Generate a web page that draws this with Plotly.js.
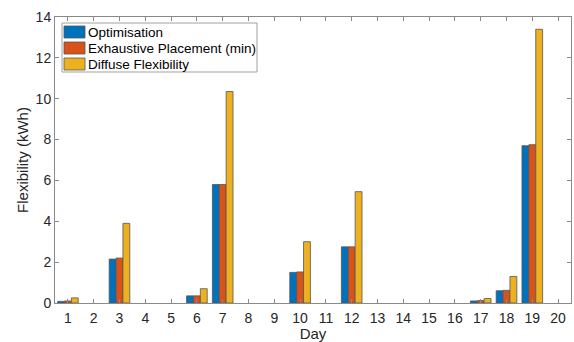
<!DOCTYPE html>
<html>
<head>
<meta charset="utf-8">
<script src="https://cdn.plot.ly/plotly-3.0.1.min.js"></script>
<style>html,body{margin:0;padding:0;background:#fff;}#chart{width:574px;height:342px;}</style>
</head>
<body>
<div id="chart"></div>
<script>
const days = [1,2,3,4,5,6,7,8,9,10,11,12,13,14,15,16,17,18,19,20];
const optimisation = [0.08,0,2.15,0,0,0.35,5.8,0,0,1.5,0,2.75,0,0,0,0,0.1,0.6,7.7,0];
const exhaustive   = [0.1,0,2.2,0,0,0.35,5.8,0,0,1.52,0,2.75,0,0,0,0,0.12,0.62,7.75,0];
const diffuse      = [0.25,0,3.9,0,0,0.7,10.35,0,0,3.0,0,5.45,0,0,0,0,0.22,1.3,13.4,0];
const seriesNames = ['Optimisation','Exhaustive Placement (min)','Diffuse Flexibility'];
const colors = ['#0072BD','#D95319','#EDB120'];
const vals = [optimisation, exhaustive, diffuse];

const traces = vals.map((v,i)=>({
  type:'bar', x:days, y:v, name:seriesNames[i], showlegend:false,
  marker:{color:colors[i], line:{color:'#555555', width:v.map(d=>d===0?0:0.8)}}
}));

// plot area in pixels
const PL=55, PR=571, PT=17, PB=303;
const px = p => (p-PL)/(PR-PL);
const py = p => (PB-p)/(PB-PT);

const shapes = [{type:'rect', xref:'paper', yref:'paper', x0:px(62), x1:px(257), y0:py(72), y1:py(23),
  line:{color:'#a0a0a0', width:1}, fillcolor:'#fff', layer:'above'}];
const annotations = [];
const rowTops = [26,42,58];
seriesNames.forEach((n,i)=>{
  shapes.push({type:'rect', xref:'paper', yref:'paper', x0:px(64), x1:px(85), y0:py(rowTops[i]+12), y1:py(rowTops[i]),
    line:{color:'#555555', width:0.8}, fillcolor:colors[i], layer:'above'});
  annotations.push({xref:'paper', yref:'paper', x:px(86), y:py(rowTops[i]+6.5), xanchor:'left', yanchor:'middle',
    text:n, showarrow:false, font:{size:13.5, color:'#000', family:'Liberation Sans, Arial, sans-serif'}});
});

const font = {family:'Liberation Sans, Arial, sans-serif', color:'#262626'};
const layout = {
  width:574, height:342,
  margin:{l:PL, r:574-PR, t:PT, b:342-PB},
  paper_bgcolor:'#fff', plot_bgcolor:'#fff',
  font:Object.assign({size:14}, font),
  barmode:'group', bargap:0.2, bargroupgap:0,
  showlegend:false,
  shapes:shapes, annotations:annotations,
  xaxis:{range:[0.5,20.5], tickmode:'array', tickvals:days, ticktext:days.map(String),
    ticks:'inside', ticklen:4, tickcolor:'#8a8a8a', showline:true, linecolor:'#8a8a8a', mirror:'ticks',
    showgrid:false, zeroline:false, tickfont:{size:14}, ticklabelstandoff:2,
    title:{text:'Day', font:{size:15}, standoff:2}},
  yaxis:{range:[0,14], dtick:2, ticks:'inside', ticklen:4, tickcolor:'#8a8a8a', showline:true,
    linecolor:'#8a8a8a', mirror:'ticks', showgrid:false, zeroline:false, tickfont:{size:14},
    title:{text:'Flexibility (kWh)', font:{size:15}, standoff:3}}
};
Plotly.newPlot('chart', traces, layout, {displayModeBar:false, staticPlot:true});
</script>
</body>
</html>
